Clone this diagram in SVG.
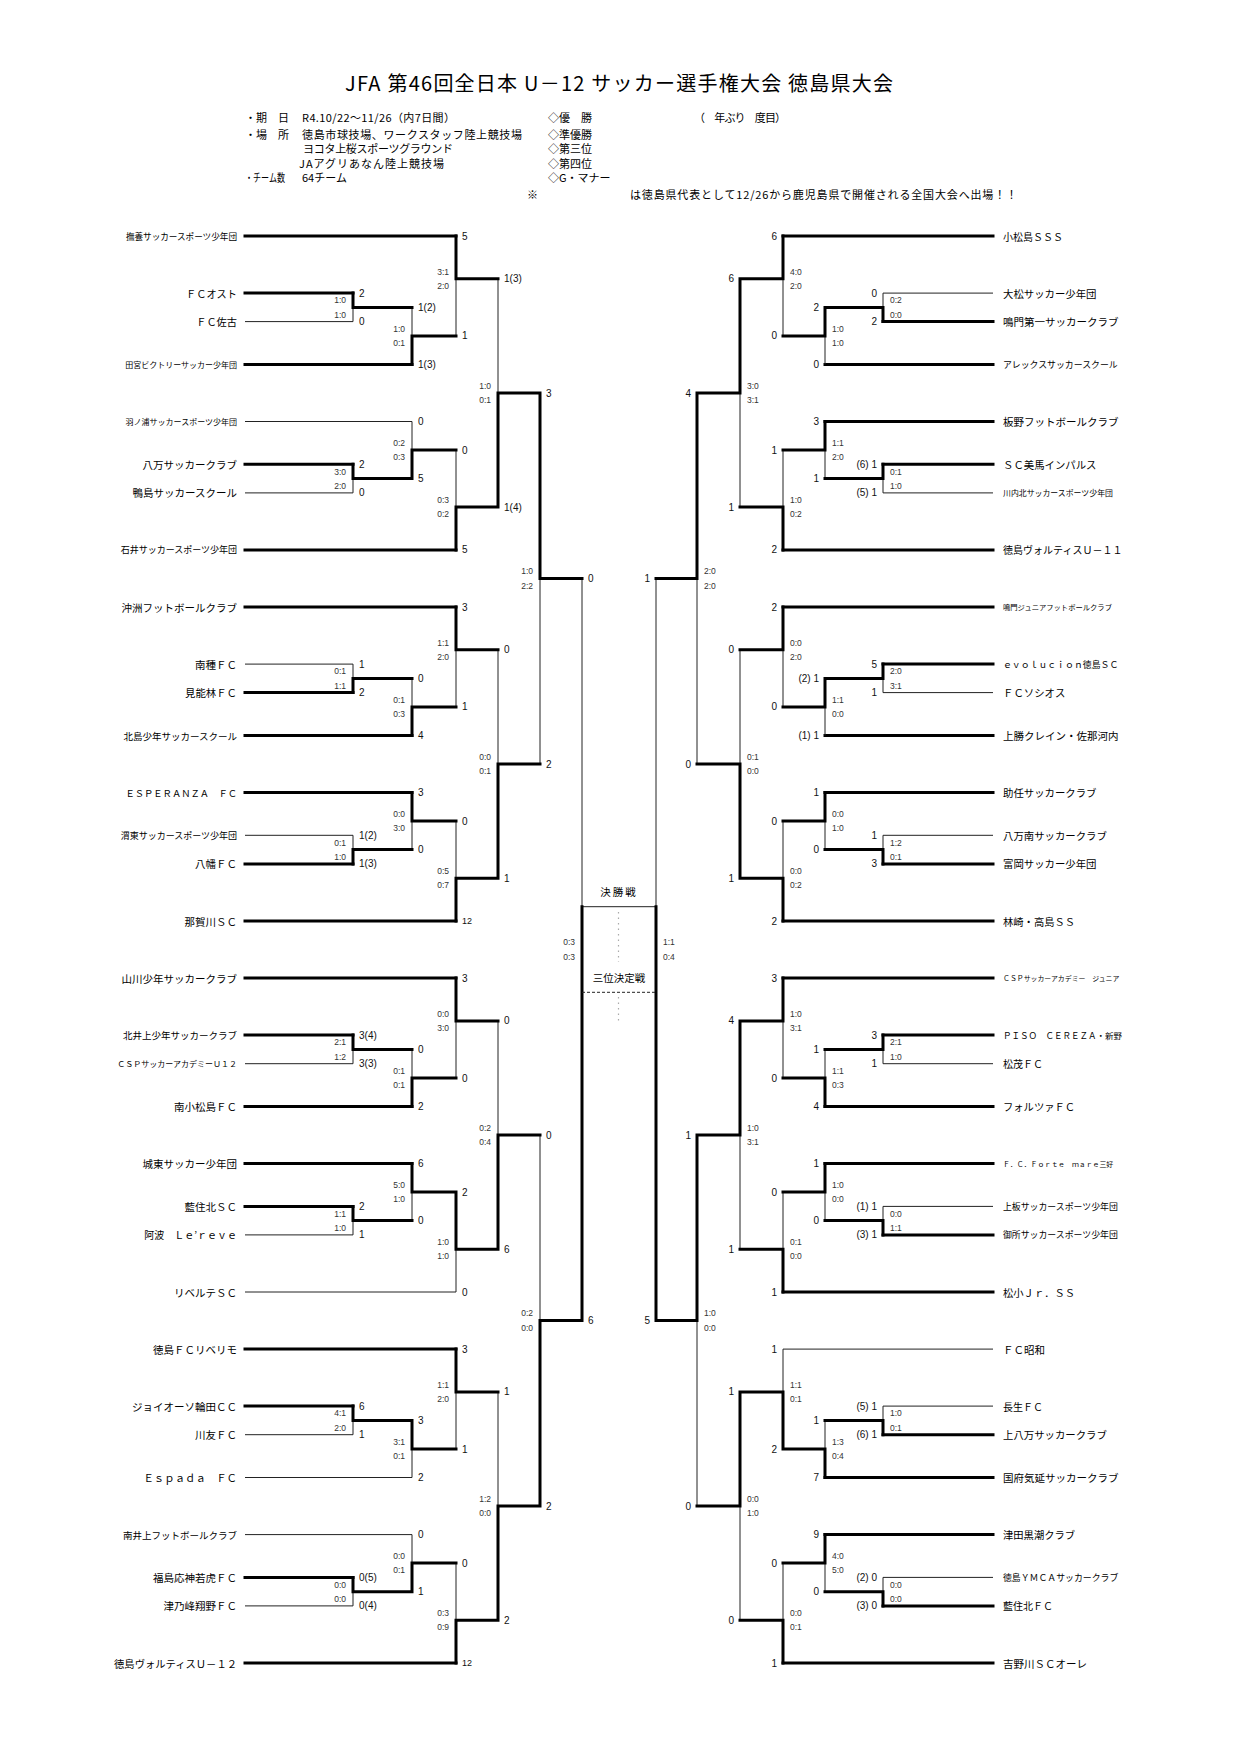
<svg xmlns="http://www.w3.org/2000/svg" width="1241" height="1755" viewBox="0 0 1241 1755">
<style>
.k{fill:none;stroke:#000;stroke-width:3;stroke-linecap:square}
.t{fill:none;stroke:#222;stroke-width:1}
.j{font-family:"Noto Sans CJK JP","Liberation Sans",sans-serif;fill:#000}
.nl{font-family:"Noto Sans CJK JP",sans-serif;text-anchor:end;dominant-baseline:central;fill:#000}
.nr{font-family:"Noto Sans CJK JP",sans-serif;text-anchor:start;dominant-baseline:central;fill:#000}
.s{font-family:"Liberation Sans",Arial,sans-serif;font-size:10px;dominant-baseline:central;fill:#111}
.sl{text-anchor:start}
.sr{text-anchor:end}
.p{font-family:"Liberation Sans",Arial,sans-serif;font-size:8.5px;dominant-baseline:central;fill:#333}
.pl{text-anchor:end}
.pr{text-anchor:start}
</style>
<rect width="1241" height="1755" fill="#fff"/>

<g id="header" class="j">
<text x="345" y="91" font-size="20" textLength="548" lengthAdjust="spacing">JFA 第46回全日本 U－12 サッカー選手権大会 徳島県大会</text>
<text x="245" y="122" font-size="11">・期　日</text>
<text x="302" y="122" font-size="11" textLength="153" lengthAdjust="spacing">R4.10/22～11/26（内7日間）</text>
<text x="245" y="139" font-size="11">・場　所</text>
<text x="302" y="139" font-size="11" textLength="220" lengthAdjust="spacing">徳島市球技場、ワークスタッフ陸上競技場</text>
<text x="303" y="153" font-size="11" textLength="150" lengthAdjust="spacing">ヨコタ上桜スポーツグラウンド</text>
<text x="299" y="168" font-size="11" textLength="145" lengthAdjust="spacing">JAアグリあなん陸上競技場</text>
<text x="245" y="182" font-size="11" textLength="40" lengthAdjust="spacingAndGlyphs">・チーム数</text>
<text x="302" y="182" font-size="11">64チーム</text>
<text x="548" y="122" font-size="11">◇優　勝</text>
<text x="548" y="139" font-size="11">◇準優勝</text>
<text x="548" y="153" font-size="11">◇第三位</text>
<text x="548" y="168" font-size="11">◇第四位</text>
<text x="548" y="182" font-size="11">◇G・マナー</text>
<text x="694" y="122" font-size="11" textLength="92" lengthAdjust="spacing">（　年ぶり　度目）</text>
<text x="527" y="199" font-size="11">※</text>
<text x="630" y="199" font-size="11" textLength="387" lengthAdjust="spacing">は徳島県代表として12/26から鹿児島県で開催される全国大会へ出場！！</text>
</g>

<g id="teams-left">
<g id="L00"><line class="k" x1="245" y1="236" x2="456" y2="236"/><text class="nl" x="237" y="236" font-size="8.6">撫養サッカースポーツ少年団</text></g>
<g id="L01"><line class="k" x1="245" y1="293.1" x2="353" y2="293.1"/><text class="nl" x="237" y="293.1" font-size="10.2">ＦＣオスト</text></g>
<g id="L02"><line class="t" x1="245" y1="321.6" x2="353" y2="321.6"/><text class="nl" x="237" y="321.6" font-size="10.2">ＦＣ佐古</text></g>
<g id="L03"><line class="k" x1="245" y1="364.4" x2="412" y2="364.4"/><text class="nl" x="237" y="364.4" font-size="8">田宮ビクトリーサッカー少年団</text></g>
<g id="L04"><line class="t" x1="245" y1="421.5" x2="412" y2="421.5"/><text class="nl" x="237" y="421.5" font-size="8">羽ノ浦サッカースポーツ少年団</text></g>
<g id="L05"><line class="k" x1="245" y1="464.3" x2="353" y2="464.3"/><text class="nl" x="237" y="464.3" font-size="10.5">八万サッカークラブ</text></g>
<g id="L06"><line class="t" x1="245" y1="492.9" x2="353" y2="492.9"/><text class="nl" x="237" y="492.9" font-size="10.5">鴨島サッカースクール</text></g>
<g id="L07"><line class="k" x1="245" y1="549.9" x2="456" y2="549.9"/><text class="nl" x="237" y="549.9" font-size="9">石井サッカースポーツ少年団</text></g>
<g id="L08"><line class="k" x1="245" y1="607" x2="456" y2="607"/><text class="nl" x="237" y="607" font-size="10.5">沖洲フットボールクラブ</text></g>
<g id="L09"><line class="t" x1="245" y1="664.1" x2="353" y2="664.1"/><text class="nl" x="237" y="664.1" font-size="10.5">南種ＦＣ</text></g>
<g id="L10"><line class="k" x1="245" y1="692.6" x2="353" y2="692.6"/><text class="nl" x="237" y="692.6" font-size="10.4">見能林ＦＣ</text></g>
<g id="L11"><line class="k" x1="245" y1="735.5" x2="412" y2="735.5"/><text class="nl" x="237" y="735.5" font-size="9.5">北島少年サッカースクール</text></g>
<g id="L12"><line class="k" x1="245" y1="792.5" x2="412" y2="792.5"/><text class="nl" x="237" y="792.5" font-size="9.3">ＥＳＰＥＲＡＮＺＡ　ＦＣ</text></g>
<g id="L13"><line class="t" x1="245" y1="835.3" x2="353" y2="835.3"/><text class="nl" x="237" y="835.3" font-size="9">渭東サッカースポーツ少年団</text></g>
<g id="L14"><line class="k" x1="245" y1="863.9" x2="353" y2="863.9"/><text class="nl" x="237" y="863.9" font-size="10.5">八幡ＦＣ</text></g>
<g id="L15"><line class="k" x1="245" y1="921" x2="456" y2="921"/><text class="nl" x="237" y="921" font-size="10.5">那賀川ＳＣ</text></g>
<g id="L16"><line class="k" x1="245" y1="978" x2="456" y2="978"/><text class="nl" x="237" y="978" font-size="10.5">山川少年サッカークラブ</text></g>
<g id="L17"><line class="k" x1="245" y1="1035.1" x2="353" y2="1035.1"/><text class="nl" x="237" y="1035.1" font-size="9.5">北井上少年サッカークラブ</text></g>
<g id="L18"><line class="t" x1="245" y1="1063.7" x2="353" y2="1063.7"/><text class="nl" x="237" y="1063.7" font-size="8">ＣＳＰサッカーアカデミーＵ１２</text></g>
<g id="L19"><line class="k" x1="245" y1="1106.5" x2="412" y2="1106.5"/><text class="nl" x="237" y="1106.5" font-size="10.5">南小松島ＦＣ</text></g>
<g id="L20"><line class="k" x1="245" y1="1163.6" x2="412" y2="1163.6"/><text class="nl" x="237" y="1163.6" font-size="10.5">城東サッカー少年団</text></g>
<g id="L21"><line class="k" x1="245" y1="1206.4" x2="353" y2="1206.4"/><text class="nl" x="237" y="1206.4" font-size="10.5">藍住北ＳＣ</text></g>
<g id="L22"><line class="t" x1="245" y1="1234.9" x2="353" y2="1234.9"/><text class="nl" x="237" y="1234.9" font-size="10">阿波　Ｌｅ’ｒｅｖｅ</text></g>
<g id="L23"><line class="t" x1="245" y1="1292" x2="456" y2="1292"/><text class="nl" x="237" y="1292" font-size="10.5">リベルテＳＣ</text></g>
<g id="L24"><line class="k" x1="245" y1="1349.1" x2="456" y2="1349.1"/><text class="nl" x="237" y="1349.1" font-size="10.5">徳島ＦＣリベリモ</text></g>
<g id="L25"><line class="k" x1="245" y1="1406.1" x2="353" y2="1406.1"/><text class="nl" x="237" y="1406.1" font-size="10.5">ジョイオーソ輪田ＣＣ</text></g>
<g id="L26"><line class="t" x1="245" y1="1434.7" x2="353" y2="1434.7"/><text class="nl" x="237" y="1434.7" font-size="10.5">川友ＦＣ</text></g>
<g id="L27"><line class="t" x1="245" y1="1477.5" x2="412" y2="1477.5"/><text class="nl" x="237" y="1477.5" font-size="10.4">Ｅｓｐａｄａ　ＦＣ</text></g>
<g id="L28"><line class="t" x1="245" y1="1534.6" x2="412" y2="1534.6"/><text class="nl" x="237" y="1534.6" font-size="9.5">南井上フットボールクラブ</text></g>
<g id="L29"><line class="k" x1="245" y1="1577.4" x2="353" y2="1577.4"/><text class="nl" x="237" y="1577.4" font-size="10.5">福島応神若虎ＦＣ</text></g>
<g id="L30"><line class="t" x1="245" y1="1605.9" x2="353" y2="1605.9"/><text class="nl" x="237" y="1605.9" font-size="10.5">津乃峰翔野ＦＣ</text></g>
<g id="L31"><line class="k" x1="245" y1="1663" x2="456" y2="1663"/><text class="nl" x="237" y="1663" font-size="10.3">徳島ヴォルティスＵ－１２</text></g>
</g>

<g id="teams-right">
<g id="R00"><line class="k" x1="783" y1="236" x2="993" y2="236"/><text class="nr" x="1003" y="236" font-size="10">小松島ＳＳＳ</text></g>
<g id="R01"><line class="t" x1="883" y1="293.1" x2="993" y2="293.1"/><text class="nr" x="1003" y="293.1" font-size="10.4">大松サッカー少年団</text></g>
<g id="R02"><line class="k" x1="883" y1="321.6" x2="993" y2="321.6"/><text class="nr" x="1003" y="321.6" font-size="10.5">鳴門第一サッカークラブ</text></g>
<g id="R03"><line class="k" x1="825" y1="364.4" x2="993" y2="364.4"/><text class="nr" x="1003" y="364.4" font-size="8.9">アレックスサッカースクール</text></g>
<g id="R04"><line class="k" x1="825" y1="421.5" x2="993" y2="421.5"/><text class="nr" x="1003" y="421.5" font-size="10.5">板野フットボールクラブ</text></g>
<g id="R05"><line class="k" x1="883" y1="464.3" x2="993" y2="464.3"/><text class="nr" x="1003" y="464.3" font-size="10.4">ＳＣ美馬インパルス</text></g>
<g id="R06"><line class="t" x1="883" y1="492.9" x2="993" y2="492.9"/><text class="nr" x="1003" y="492.9" font-size="7.9">川内北サッカースポーツ少年団</text></g>
<g id="R07"><line class="k" x1="783" y1="549.9" x2="993" y2="549.9"/><text class="nr" x="1003" y="549.9" font-size="10">徳島ヴォルティスＵ－１１</text></g>
<g id="R08"><line class="k" x1="783" y1="607" x2="993" y2="607"/><text class="nr" x="1003" y="607" font-size="7.3">鳴門ジュニアフットボールクラブ</text></g>
<g id="R09"><line class="k" x1="883" y1="664.1" x2="993" y2="664.1"/><text class="nr" x="1003" y="664.1" font-size="8.9">ｅｖｏｌｕｃｉｏｎ徳島ＳＣ</text></g>
<g id="R10"><line class="t" x1="883" y1="692.6" x2="993" y2="692.6"/><text class="nr" x="1003" y="692.6" font-size="10.4">ＦＣソシオス</text></g>
<g id="R11"><line class="k" x1="825" y1="735.5" x2="993" y2="735.5"/><text class="nr" x="1003" y="735.5" font-size="10.5">上勝クレイン・佐那河内</text></g>
<g id="R12"><line class="k" x1="825" y1="792.5" x2="993" y2="792.5"/><text class="nr" x="1003" y="792.5" font-size="10.4">助任サッカークラブ</text></g>
<g id="R13"><line class="t" x1="883" y1="835.3" x2="993" y2="835.3"/><text class="nr" x="1003" y="835.3" font-size="10.4">八万南サッカークラブ</text></g>
<g id="R14"><line class="k" x1="883" y1="863.9" x2="993" y2="863.9"/><text class="nr" x="1003" y="863.9" font-size="10.4">富岡サッカー少年団</text></g>
<g id="R15"><line class="k" x1="783" y1="921" x2="993" y2="921"/><text class="nr" x="1003" y="921" font-size="10.3">林崎・高島ＳＳ</text></g>
<g id="R16"><line class="k" x1="783" y1="978" x2="993" y2="978"/><text class="nr" x="1003" y="978" font-size="6.9">ＣＳＰサッカーアカデミー　ジュニア</text></g>
<g id="R17"><line class="k" x1="883" y1="1035.1" x2="993" y2="1035.1"/><text class="nr" x="1003" y="1035.1" font-size="8.5">ＰＩＳＯ　ＣＥＲＥＺＡ・新野</text></g>
<g id="R18"><line class="t" x1="883" y1="1063.7" x2="993" y2="1063.7"/><text class="nr" x="1003" y="1063.7" font-size="10">松茂ＦＣ</text></g>
<g id="R19"><line class="k" x1="825" y1="1106.5" x2="993" y2="1106.5"/><text class="nr" x="1003" y="1106.5" font-size="10.3">フォルツァＦＣ</text></g>
<g id="R20"><line class="k" x1="825" y1="1163.6" x2="993" y2="1163.6"/><text class="nr" x="1003" y="1163.6" font-size="6.9">Ｆ．Ｃ．Ｆｏｒｔｅ　ｍａｒｅ三好</text></g>
<g id="R21"><line class="t" x1="883" y1="1206.4" x2="993" y2="1206.4"/><text class="nr" x="1003" y="1206.4" font-size="8.9">上板サッカースポーツ少年団</text></g>
<g id="R22"><line class="k" x1="883" y1="1234.9" x2="993" y2="1234.9"/><text class="nr" x="1003" y="1234.9" font-size="8.9">御所サッカースポーツ少年団</text></g>
<g id="R23"><line class="k" x1="783" y1="1292" x2="993" y2="1292"/><text class="nr" x="1003" y="1292" font-size="10.3">松小Ｊｒ．ＳＳ</text></g>
<g id="R24"><line class="t" x1="783" y1="1349.1" x2="993" y2="1349.1"/><text class="nr" x="1003" y="1349.1" font-size="10.5">ＦＣ昭和</text></g>
<g id="R25"><line class="t" x1="883" y1="1406.1" x2="993" y2="1406.1"/><text class="nr" x="1003" y="1406.1" font-size="10">長生ＦＣ</text></g>
<g id="R26"><line class="k" x1="883" y1="1434.7" x2="993" y2="1434.7"/><text class="nr" x="1003" y="1434.7" font-size="10.4">上八万サッカークラブ</text></g>
<g id="R27"><line class="k" x1="825" y1="1477.5" x2="993" y2="1477.5"/><text class="nr" x="1003" y="1477.5" font-size="10.5">国府気延サッカークラブ</text></g>
<g id="R28"><line class="k" x1="825" y1="1534.6" x2="993" y2="1534.6"/><text class="nr" x="1003" y="1534.6" font-size="10.3">津田黒潮クラブ</text></g>
<g id="R29"><line class="t" x1="883" y1="1577.4" x2="993" y2="1577.4"/><text class="nr" x="1003" y="1577.4" font-size="8.9">徳島ＹＭＣＡサッカークラブ</text></g>
<g id="R30"><line class="k" x1="883" y1="1605.9" x2="993" y2="1605.9"/><text class="nr" x="1003" y="1605.9" font-size="10">藍住北ＦＣ</text></g>
<g id="R31"><line class="k" x1="783" y1="1663" x2="993" y2="1663"/><text class="nr" x="1003" y="1663" font-size="10.5">吉野川ＳＣオーレ</text></g>
</g>

<g id="connectors">
<path class="t" d="M353 321.6V307.4M412 307.4V335.9M456 335.9V278.8M353 492.9V478.6M412 421.5V450.1M456 450.1V507.1M498 278.8V393M353 664.1V678.4M412 678.4V706.9M456 706.9V649.8M353 835.3V849.6M412 849.6V821.1M456 821.1V878.2M498 649.8V764M540 764V578.5M353 1063.7V1049.4M412 1049.4V1078M456 1078V1020.9M353 1234.9V1220.6M412 1220.6V1192.1M456 1292V1249.2M498 1020.9V1135M353 1434.7V1420.4M412 1477.5V1449M456 1449V1391.9M353 1605.9V1591.7M412 1534.6V1563.1M456 1563.1V1620.2M498 1391.9V1506M540 1135V1320.5M582 578.5V906.7M582 906.7H656"/>
<path class="k" d="M353 293.1V307.4H412M412 364.4V335.9H456M456 236V278.8H498M353 464.3V478.6H412M412 478.6V450.1H456M456 549.9V507.1H498M498 507.1V393H540M353 692.6V678.4H412M412 735.5V706.9H456M456 607V649.8H498M353 863.9V849.6H412M412 792.5V821.1H456M456 921V878.2H498M498 878.2V764H540M540 393V578.5H582M353 1035.1V1049.4H412M412 1106.5V1078H456M456 978V1020.9H498M353 1206.4V1220.6H412M412 1163.6V1192.1H456M456 1192.1V1249.2H498M498 1249.2V1135H540M353 1406.1V1420.4H412M412 1420.4V1449H456M456 1349.1V1391.9H498M353 1577.4V1591.7H412M412 1591.7V1563.1H456M456 1663V1620.2H498M498 1620.2V1506H540M540 1506V1320.5H582M582 1320.5V906.7"/>
<path class="t" d="M883 293.1V307.4M825 364.4V335.9M783 335.9V278.8M883 492.9V478.6M825 478.6V450.1M783 450.1V507.1M740 507.1V393M883 692.6V678.4M825 735.5V706.9M783 706.9V649.8M883 835.3V849.6M825 849.6V821.1M783 821.1V878.2M740 649.8V764M697 764V578.5M883 1063.7V1049.4M825 1049.4V1078M783 1078V1020.9M883 1206.4V1220.6M825 1220.6V1192.1M783 1192.1V1249.2M740 1249.2V1135M883 1406.1V1420.4M825 1420.4V1449M783 1349.1V1391.9M883 1577.4V1591.7M825 1591.7V1563.1M783 1563.1V1620.2M740 1620.2V1506M697 1506V1320.5M656 578.5V906.7"/>
<path class="k" d="M883 321.6V307.4H825M825 307.4V335.9H783M783 236V278.8H740M883 464.3V478.6H825M825 421.5V450.1H783M783 549.9V507.1H740M740 278.8V393H697M883 664.1V678.4H825M825 678.4V706.9H783M783 607V649.8H740M883 863.9V849.6H825M825 792.5V821.1H783M783 921V878.2H740M740 878.2V764H697M697 393V578.5H656M883 1035.1V1049.4H825M825 1106.5V1078H783M783 978V1020.9H740M883 1234.9V1220.6H825M825 1163.6V1192.1H783M783 1292V1249.2H740M740 1020.9V1135H697M883 1434.7V1420.4H825M825 1477.5V1449H783M783 1449V1391.9H740M883 1605.9V1591.7H825M825 1534.6V1563.1H783M783 1663V1620.2H740M740 1391.9V1506H697M697 1135V1320.5H656M656 1320.5V906.7"/>
<path d="M582 992.3H656" fill="none" stroke="#222" stroke-width="1" stroke-dasharray="3 2"/>
<path d="M618.5 912V962M618.5 997V1022" fill="none" stroke="#aaa" stroke-width="1.2" stroke-dasharray="1.5 4"/>
</g>

<g id="final-labels" class="j">
<text x="619" y="896" font-size="10.5" text-anchor="middle" letter-spacing="2">決勝戦</text>
<text x="619" y="982" font-size="10.5" text-anchor="middle">三位決定戦</text>
</g>

<g id="scores-left" class="s sl">
<text x="359" y="293.1">2</text><text x="359" y="321.6">0</text><text x="359" y="464.3">2</text><text x="359" y="492.9">0</text>
<text x="359" y="664.1">1</text><text x="359" y="692.6">2</text><text x="359" y="835.3">1(2)</text><text x="359" y="863.9">1(3)</text>
<text x="359" y="1035.1">3(4)</text><text x="359" y="1063.7">3(3)</text><text x="359" y="1206.4">2</text><text x="359" y="1234.9">1</text>
<text x="359" y="1406.1">6</text><text x="359" y="1434.7">1</text><text x="359" y="1577.4">0(5)</text><text x="359" y="1605.9">0(4)</text>
<text x="418" y="307.4">1(2)</text><text x="418" y="364.4">1(3)</text><text x="418" y="421.5">0</text><text x="418" y="478.6">5</text>
<text x="418" y="678.4">0</text><text x="418" y="735.5">4</text><text x="418" y="792.5">3</text><text x="418" y="849.6">0</text>
<text x="418" y="1049.4">0</text><text x="418" y="1106.5">2</text><text x="418" y="1163.6">6</text><text x="418" y="1220.6">0</text>
<text x="418" y="1420.4">3</text><text x="418" y="1477.5">2</text><text x="418" y="1534.6">0</text><text x="418" y="1591.7">1</text>
<text x="462" y="236">5</text><text x="462" y="335.9">1</text><text x="462" y="450.1">0</text><text x="462" y="549.9">5</text>
<text x="462" y="607">3</text><text x="462" y="706.9">1</text><text x="462" y="821.1">0</text><text x="462" y="921" font-size="9">12</text>
<text x="462" y="978">3</text><text x="462" y="1078">0</text><text x="462" y="1192.1">2</text><text x="462" y="1292">0</text>
<text x="462" y="1349.1">3</text><text x="462" y="1449">1</text><text x="462" y="1563.1">0</text><text x="462" y="1663" font-size="9">12</text>
<text x="504" y="278.8">1(3)</text><text x="504" y="507.1">1(4)</text><text x="504" y="649.8">0</text><text x="504" y="878.2">1</text>
<text x="504" y="1020.9">0</text><text x="504" y="1249.2">6</text><text x="504" y="1391.9">1</text><text x="504" y="1620.2">2</text>
<text x="546" y="393">3</text><text x="546" y="764">2</text><text x="546" y="1135">0</text><text x="546" y="1506">2</text>
<text x="588" y="578.5">0</text><text x="588" y="1320.5">6</text>
</g>

<g id="scores-right" class="s sr">
<text x="877" y="293.1">0</text><text x="877" y="321.6">2</text><text x="877" y="464.3">(6) 1</text><text x="877" y="492.9">(5) 1</text>
<text x="877" y="664.1">5</text><text x="877" y="692.6">1</text><text x="877" y="835.3">1</text><text x="877" y="863.9">3</text>
<text x="877" y="1035.1">3</text><text x="877" y="1063.7">1</text><text x="877" y="1206.4">(1) 1</text><text x="877" y="1234.9">(3) 1</text>
<text x="877" y="1406.1">(5) 1</text><text x="877" y="1434.7">(6) 1</text><text x="877" y="1577.4">(2) 0</text><text x="877" y="1605.9">(3) 0</text>
<text x="819" y="307.4">2</text><text x="819" y="364.4">0</text><text x="819" y="421.5">3</text><text x="819" y="478.6">1</text>
<text x="819" y="678.4">(2) 1</text><text x="819" y="735.5">(1) 1</text><text x="819" y="792.5">1</text><text x="819" y="849.6">0</text>
<text x="819" y="1049.4">1</text><text x="819" y="1106.5">4</text><text x="819" y="1163.6">1</text><text x="819" y="1220.6">0</text>
<text x="819" y="1420.4">1</text><text x="819" y="1477.5">7</text><text x="819" y="1534.6">9</text><text x="819" y="1591.7">0</text>
<text x="777" y="236">6</text><text x="777" y="335.9">0</text><text x="777" y="450.1">1</text><text x="777" y="549.9">2</text>
<text x="777" y="607">2</text><text x="777" y="706.9">0</text><text x="777" y="821.1">0</text><text x="777" y="921">2</text>
<text x="777" y="978">3</text><text x="777" y="1078">0</text><text x="777" y="1192.1">0</text><text x="777" y="1292">1</text>
<text x="777" y="1349.1">1</text><text x="777" y="1449">2</text><text x="777" y="1563.1">0</text><text x="777" y="1663">1</text>
<text x="734" y="278.8">6</text><text x="734" y="507.1">1</text><text x="734" y="649.8">0</text><text x="734" y="878.2">1</text>
<text x="734" y="1020.9">4</text><text x="734" y="1249.2">1</text><text x="734" y="1391.9">1</text><text x="734" y="1620.2">0</text>
<text x="691" y="393">4</text><text x="691" y="764">0</text><text x="691" y="1135">1</text><text x="691" y="1506">0</text>
<text x="650" y="578.5">1</text><text x="650" y="1320.5">5</text>
</g>

<g id="pairs-left" class="p pl">
<text x="346" y="300.3">1:0</text><text x="346" y="314.5">1:0</text>
<text x="346" y="471.5">3:0</text><text x="346" y="485.7">2:0</text>
<text x="346" y="671.3">0:1</text><text x="346" y="685.5">1:1</text>
<text x="346" y="842.5">0:1</text><text x="346" y="856.7">1:0</text>
<text x="346" y="1042.3">2:1</text><text x="346" y="1056.5">1:2</text>
<text x="346" y="1213.5">1:1</text><text x="346" y="1227.7">1:0</text>
<text x="346" y="1413.3">4:1</text><text x="346" y="1427.5">2:0</text>
<text x="346" y="1584.6">0:0</text><text x="346" y="1598.8">0:0</text>
<text x="405" y="328.8">1:0</text><text x="405" y="343">0:1</text>
<text x="405" y="443">0:2</text><text x="405" y="457.2">0:3</text>
<text x="405" y="699.8">0:1</text><text x="405" y="714">0:3</text>
<text x="405" y="814">0:0</text><text x="405" y="828.2">3:0</text>
<text x="405" y="1070.9">0:1</text><text x="405" y="1085.1">0:1</text>
<text x="405" y="1185">5:0</text><text x="405" y="1199.2">1:0</text>
<text x="405" y="1441.9">3:1</text><text x="405" y="1456.1">0:1</text>
<text x="405" y="1556">0:0</text><text x="405" y="1570.2">0:1</text>
<text x="449" y="271.7">3:1</text><text x="449" y="285.9">2:0</text>
<text x="449" y="500">0:3</text><text x="449" y="514.2">0:2</text>
<text x="449" y="642.7">1:1</text><text x="449" y="656.9">2:0</text>
<text x="449" y="871.1">0:5</text><text x="449" y="885.3">0:7</text>
<text x="449" y="1013.8">0:0</text><text x="449" y="1028">3:0</text>
<text x="449" y="1242.1">1:0</text><text x="449" y="1256.3">1:0</text>
<text x="449" y="1384.8">1:1</text><text x="449" y="1399">2:0</text>
<text x="449" y="1613.1">0:3</text><text x="449" y="1627.3">0:9</text>
<text x="491" y="385.9">1:0</text><text x="491" y="400.1">0:1</text>
<text x="491" y="756.9">0:0</text><text x="491" y="771.1">0:1</text>
<text x="491" y="1127.9">0:2</text><text x="491" y="1142.1">0:4</text>
<text x="491" y="1498.9">1:2</text><text x="491" y="1513.1">0:0</text>
<text x="533" y="571.4">1:0</text><text x="533" y="585.6">2:2</text>
<text x="533" y="1313.4">0:2</text><text x="533" y="1327.6">0:0</text>
<text x="575" y="942.4">0:3</text><text x="575" y="956.6">0:3</text>
</g>

<g id="pairs-right" class="p pr">
<text x="890" y="300.3">0:2</text><text x="890" y="314.5">0:0</text>
<text x="890" y="471.5">0:1</text><text x="890" y="485.7">1:0</text>
<text x="890" y="671.3">2:0</text><text x="890" y="685.5">3:1</text>
<text x="890" y="842.5">1:2</text><text x="890" y="856.7">0:1</text>
<text x="890" y="1042.3">2:1</text><text x="890" y="1056.5">1:0</text>
<text x="890" y="1213.5">0:0</text><text x="890" y="1227.7">1:1</text>
<text x="890" y="1413.3">1:0</text><text x="890" y="1427.5">0:1</text>
<text x="890" y="1584.6">0:0</text><text x="890" y="1598.8">0:0</text>
<text x="832" y="328.8">1:0</text><text x="832" y="343">1:0</text>
<text x="832" y="443">1:1</text><text x="832" y="457.2">2:0</text>
<text x="832" y="699.8">1:1</text><text x="832" y="714">0:0</text>
<text x="832" y="814">0:0</text><text x="832" y="828.2">1:0</text>
<text x="832" y="1070.9">1:1</text><text x="832" y="1085.1">0:3</text>
<text x="832" y="1185">1:0</text><text x="832" y="1199.2">0:0</text>
<text x="832" y="1441.9">1:3</text><text x="832" y="1456.1">0:4</text>
<text x="832" y="1556">4:0</text><text x="832" y="1570.2">5:0</text>
<text x="790" y="271.7">4:0</text><text x="790" y="285.9">2:0</text>
<text x="790" y="500">1:0</text><text x="790" y="514.2">0:2</text>
<text x="790" y="642.7">0:0</text><text x="790" y="656.9">2:0</text>
<text x="790" y="871.1">0:0</text><text x="790" y="885.3">0:2</text>
<text x="790" y="1013.8">1:0</text><text x="790" y="1028">3:1</text>
<text x="790" y="1242.1">0:1</text><text x="790" y="1256.3">0:0</text>
<text x="790" y="1384.8">1:1</text><text x="790" y="1399">0:1</text>
<text x="790" y="1613.1">0:0</text><text x="790" y="1627.3">0:1</text>
<text x="747" y="385.9">3:0</text><text x="747" y="400.1">3:1</text>
<text x="747" y="756.9">0:1</text><text x="747" y="771.1">0:0</text>
<text x="747" y="1127.9">1:0</text><text x="747" y="1142.1">3:1</text>
<text x="747" y="1498.9">0:0</text><text x="747" y="1513.1">1:0</text>
<text x="704" y="571.4">2:0</text><text x="704" y="585.6">2:0</text>
<text x="704" y="1313.4">1:0</text><text x="704" y="1327.6">0:0</text>
<text x="663" y="942.4">1:1</text><text x="663" y="956.6">0:4</text>
</g>
</svg>
